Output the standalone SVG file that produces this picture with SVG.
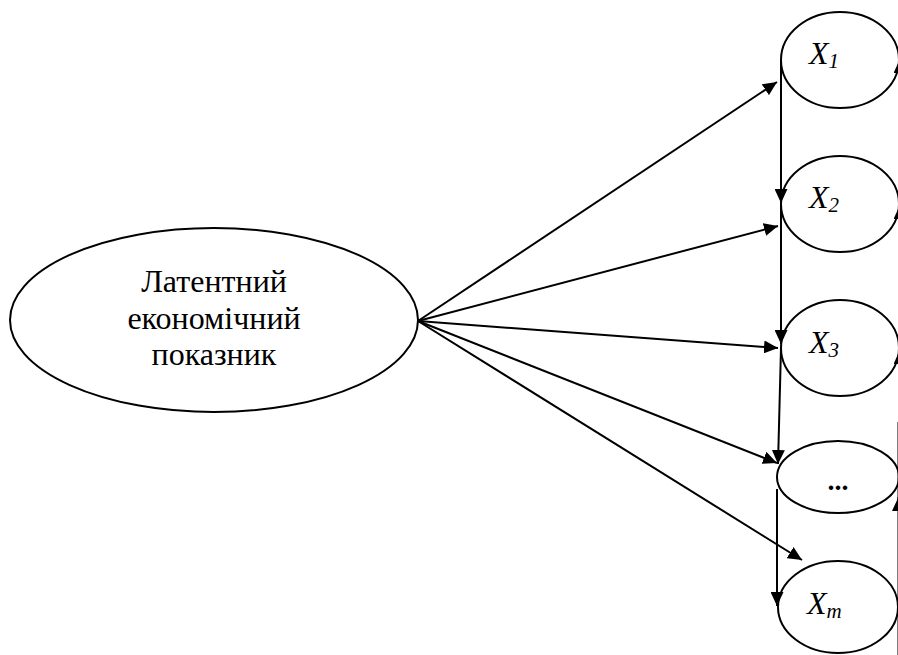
<svg xmlns="http://www.w3.org/2000/svg" width="898" height="655" viewBox="0 0 898 655">
<defs>
<marker id="ah" viewBox="0 0 14 13" refX="14" refY="6.5" markerWidth="14" markerHeight="13" markerUnits="userSpaceOnUse" orient="auto">
<path d="M0,0 L14,6.5 L0,13 Z" fill="#000"/>
</marker>
<style>
.node{fill:#fff;stroke:#000;stroke-width:2}
.lbl{font-family:'Liberation Serif','Tinos','Times New Roman','DejaVu Serif',serif;font-size:32px;fill:#000}
.x{font-family:'Liberation Serif','Tinos','Times New Roman','DejaVu Serif',serif;font-style:italic;font-size:32px;fill:#000}
.sub{font-size:21px}
.d{font-family:'Liberation Serif','Tinos','Times New Roman','DejaVu Serif',serif;font-weight:bold;font-size:28px;fill:#000}
.c{fill:none;stroke:#000;stroke-width:2;marker-end:url(#ah)}
.p{fill:none;stroke:#000;stroke-width:2}
</style>
</defs>
<rect width="898" height="655" fill="#fff"/>
<g id="latent">
<ellipse class="node" cx="214" cy="320" rx="204" ry="92"/>
<text class="lbl" text-anchor="middle"><tspan x="214" y="292">Латентний</tspan><tspan x="214" y="329">економічний</tspan><tspan x="214" y="365">показник</tspan></text>
</g>
<g id="x1">
<ellipse class="node" cx="840" cy="60" rx="59" ry="48"/>
<text class="x" x="809" y="64">X<tspan class="sub" dy="4">1</tspan></text>
</g>
<g id="x2">
<ellipse class="node" cx="840" cy="204" rx="59" ry="48"/>
<text class="x" x="809" y="208">X<tspan class="sub" dy="4">2</tspan></text>
</g>
<g id="x3">
<ellipse class="node" cx="840" cy="348" rx="59" ry="48"/>
<text class="x" x="809" y="353">X<tspan class="sub" dy="4">3</tspan></text>
</g>
<g id="dots">
<ellipse class="node" cx="838" cy="477" rx="61" ry="36"/>
<text class="d" x="838" y="490" text-anchor="middle">...</text>
</g>
<g id="xm">
<ellipse class="node" cx="838" cy="607" rx="60" ry="46"/>
<text class="x" x="807" y="614">X<tspan class="sub" dy="4">m</tspan></text>
</g>
<g id="connectors">
<line class="c" x1="418" y1="321" x2="777" y2="82"/>
<line class="c" x1="418" y1="321" x2="778" y2="226"/>
<line class="c" x1="418" y1="321" x2="778" y2="348"/>
<line class="c" x1="418" y1="321" x2="777" y2="463"/>
<line class="c" x1="418" y1="321" x2="802" y2="560"/>
<line class="c" x1="781" y1="60" x2="781" y2="203"/>
<line class="c" x1="781" y1="204" x2="781" y2="344"/>
<line class="c" x1="781" y1="348" x2="778" y2="464"/>
<line class="c" x1="777" y1="489" x2="777" y2="606"/>
<line class="c" x1="900" y1="120" x2="900" y2="59"/>
<line class="c" x1="900" y1="265" x2="900" y2="205"/>
<line class="c" x1="900" y1="410" x2="900" y2="350"/>
<line class="p" x1="898.5" y1="422" x2="898.5" y2="500"/>
<line class="c" x1="898.5" y1="655" x2="898.5" y2="497"/>
</g>
</svg>
